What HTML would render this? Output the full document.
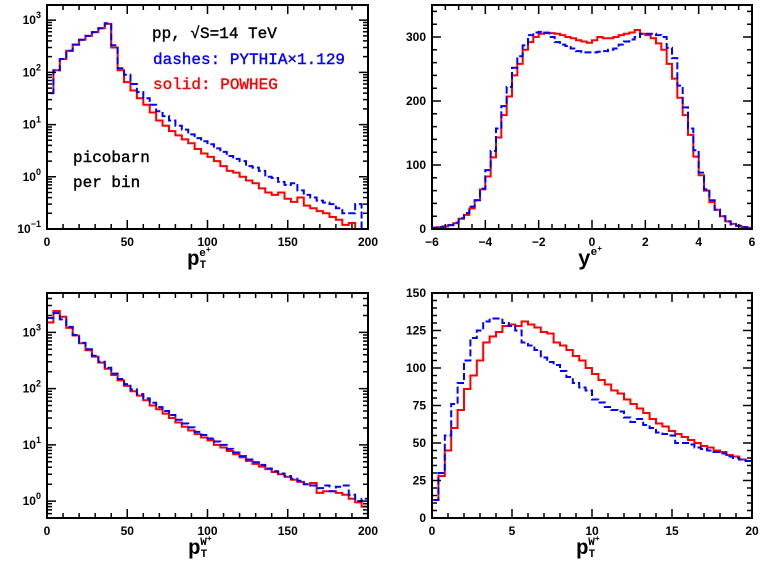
<!DOCTYPE html>
<html><head><meta charset="utf-8"><style>
body{margin:0;background:#fff;}
svg{display:block;font-family:"Liberation Sans",sans-serif;}
.tl{font-size:12px;font-weight:bold;fill:#000;}
.note{font-size:16px;font-family:"Liberation Mono",monospace;stroke-width:0.4;}
</style></head><body>
<svg id="chart" width="763" height="565" viewBox="0 0 763 565">
  <text x="152" y="38" class="note" fill="#000" stroke="#000">pp, √S=14 TeV</text>
  <text x="153" y="64" class="note" fill="#00f" stroke="#00f">dashes: PYTHIA×1.129</text>
  <text x="153" y="89" class="note" fill="#f00" stroke="#f00">solid: POWHEG</text>
  <text x="73" y="162" class="note" fill="#000" stroke="#000">picobarn</text>
  <text x="73" y="187" class="note" fill="#000" stroke="#000">per bin</text>
</svg>
<script>
// ---- Panel 1: pT of e+ (4 GeV bins, 0-200) ----
const p1Bin = 4;
const p1Powheg = [40,110,180,260,340,420,500,590,700,850,300,110,65,45,32,24,17,12,9.5,7.5,6.2,5.2,4.4,3.4,2.8,2.4,2.0,1.6,1.3,1.2,1.0,0.85,0.75,0.6,0.5,0.45,0.5,0.38,0.33,0.4,0.28,0.25,0.22,0.2,0.17,0.15,0.12,0.13,0.1,0.05];
const p1Pythia = [40,110,180,260,340,420,500,590,700,870,330,120,90,60,42,32,24,18,14.5,12,9.5,8,6.5,5.5,4.8,4.2,3.5,3,2.5,2.2,2.0,1.6,1.5,1.3,1.0,0.95,0.8,0.7,0.75,0.55,0.45,0.4,0.35,0.32,0.3,0.25,0.2,0.2,0.3,0.05];
const p1XTicks = [0,50,100,150,200];
const p1YTicks = [-1,0,1,2,3];
// ---- Panel 2: rapidity of e+ (0.2 bins, -6..6) ----
const p2Bin = 0.2;
const p2Powheg = [2,3,4,6,9,16,22,32,45,62,82,112,143,178,207,240,258,280,292,300,305,307,306,305,303,300,298,295,293,291,295,300,298,298,300,303,305,307,311,305,303,298,290,280,258,235,205,178,147,113,84,60,42,30,20,12,8,5,3,2];
const p2Pythia = [2,3,4,6,10,17,25,35,45,63,92,122,157,192,222,252,270,287,303,307,308,306,300,292,288,286,282,278,276,276,276,277,278,280,282,288,293,296,300,305,305,305,303,300,283,267,224,190,157,123,88,62,45,30,20,12,7,5,3,2];
const p2XTicks = [-6,-4,-2,0,2,4,6];
const p2YTicks = [0,100,200,300];
// ---- Panel 3: pT of W+ (4 GeV bins) ----
const p3Bin = 4;
const p3Powheg = [1500,2400,1900,1200,880,640,480,370,290,225,175,140,112,90,75,62,50,43,36,30,25,21,18,15.5,13.5,12,10,9,7.8,6.8,6,5.2,4.6,4.1,3.7,3.3,3.0,2.7,2.4,2.2,2.0,2.1,1.4,1.5,1.5,1.4,1.3,1.1,0.95,0.8];
const p3Pythia = [1800,2200,1700,1250,900,650,500,385,300,235,185,148,120,97,80,67,56,47,40,34,28,24,20.5,17,15,13,11.5,10,8.5,7.3,6.3,5.5,4.9,4.4,3.8,3.4,3.1,2.8,2.5,2.3,2.0,1.9,1.7,1.9,1.5,1.8,1.9,1.3,1.0,1.1];
const p3XTicks = [0,50,100,150,200];
const p3YTicks = [0,1,2,3];
// ---- Panel 4: pT of W+ low range (0.4 GeV bins, 0-20) ----
const p4Bin = 0.4;
const p4Powheg = [12,28,45,60,72,86,95,105,117,121,124,128,129,128,131,129,127,124,123,117,115,112,108,105,100,96,92,89,85,83,79,76,73,70,66,63,61,58,56,54,52,50,48,47,45,44,42,41,39,38];
const p4Pythia = [12,30,55,76,90,105,120,125,131,133,133,130,128,125,117,115,112,107,104,102,98,94,90,87,85,79,77,74,72,71,67,64,66,62,60,57,56,55,50,50,49,47,46,45,44,43,41,40,39,38];
const p4XTicks = [0,5,10,15,20];
const p4YTicks = [0,25,50,75,100,125,150];

const NS = "http://www.w3.org/2000/svg";
const svg = document.getElementById('chart');
function mk(tag, attrs, parent){const e=document.createElementNS(NS,tag);for(const k in attrs)e.setAttribute(k,attrs[k]);(parent||svg).appendChild(e);return e;}

function panel(cfg){
  const g = mk('g',{});
  
  
  const {x0,x1,y0,y1,xmin,xmax,ymin,ymax,log} = cfg;
  const X = v => x0 + (v-xmin)/(xmax-xmin)*(x1-x0);
  const Y = v => { const t = log ? (Math.log10(Math.max(v,1e-6))-ymin)/(ymax-ymin) : (v-ymin)/(ymax-ymin); return y1 - t*(y1-y0); };
  const cid = 'clip-'+cfg.name;
  const cp = mk('clipPath',{id:cid},g); mk('rect',{x:x0,y:y0,width:x1-x0,height:y1-y0},cp);
  const series = [[cfg.red,'#f00','none','solid-powheg-line'],[cfg.blue,'#00f','7,3','dashed-pythia-line']];
  for(const [vals,col,dash,nm] of series){
    let d = 'M'+X(cfg.start)+','+y1;
    vals.forEach((v,i)=>{const a=cfg.start+i*cfg.bin,b=a+cfg.bin;d+=' L'+X(a).toFixed(2)+','+Y(v).toFixed(2)+' L'+X(b).toFixed(2)+','+Y(v).toFixed(2);});
    d+=' L'+X(cfg.start+vals.length*cfg.bin)+','+y1;
    const p = mk('path',{d:d,fill:'none',stroke:col,'stroke-width':2,'stroke-dasharray':dash,'clip-path':'url(#'+cid+')'},g);
    
    
  }
  const fr = mk('rect',{x:x0,y:y0,width:x1-x0,height:y1-y0,fill:'none',stroke:'#000','stroke-width':2},g);
  
  
  let td='';
  for(let v=xmin; v<=xmax+1e-9; v+=cfg.xminor){const px=X(v);const major=cfg.xticks.some(t=>Math.abs(t-v)<1e-6);const L=major?9:5;td+=`M${px},${y1}v${-L}M${px},${y0}v${L}`;}
  if(log){
    for(let dcd=Math.floor(ymin); dcd<ymax; dcd++){for(let m=1;m<10;m++){const lv=dcd+Math.log10(m);if(lv<ymin||lv>ymax)continue;const py=y1-(lv-ymin)/(ymax-ymin)*(y1-y0);const L=m==1?9:5;td+=`M${x0},${py}h${L}M${x1},${py}h${-L}`;}}
  } else {
    for(let v=ymin; v<=ymax+1e-9; v+=cfg.yminor){const py=Y(v);const major=cfg.yticks.some(t=>Math.abs(t-v)<1e-6);const L=major?9:5;td+=`M${x0},${py}h${L}M${x1},${py}h${-L}`;}
  }
  mk('path',{d:td,stroke:'#000','stroke-width':1.5,fill:'none'},g);
  cfg.xticks.forEach(v=>{const t=mk('text',{x:X(v),y:y1+17,'text-anchor':'middle',class:'tl'},g);t.textContent=(v<0?'−'+(-v):v);
    
    });
  cfg.yticks.forEach(v=>{let py, t;
    if(log){py=y1-(v-ymin)/(ymax-ymin)*(y1-y0);t=mk('text',{x:x0-6,y:py+4,'text-anchor':'end',class:'tl'},g);t.innerHTML='10<tspan dy="-6" font-size="9">'+(v<0?'−'+(-v):v)+'</tspan>';}
    else{py=Y(v);t=mk('text',{x:x0-6,y:py+4,'text-anchor':'end',class:'tl'},g);t.textContent=v;}
    
    });
  const at = mk('text',{x:cfg.tx,y:y1+36,'font-family':'Liberation Mono, monospace','font-weight':'bold','font-size':'21'},g);
  at.innerHTML = cfg.title;
  
  
}

const sup = (a)=>'<tspan font-size="11" dy="-10">'+a+'</tspan><tspan font-size="8" dy="-4">+</tspan>';
const pTsup = (a)=>'p<tspan font-size="11" dy="3">T</tspan><tspan font-size="11" dy="-12" dx="-7">'+a+'</tspan><tspan font-size="8" dy="-4">+</tspan>';
panel({name:'panel-pt-electron',x0:47,x1:368,y0:5,y1:229,xmin:0,xmax:200,ymin:-1,ymax:3.29,log:true,start:0,bin:p1Bin,red:p1Powheg,blue:p1Pythia,xticks:p1XTicks,yticks:p1YTicks,xminor:10,tx:187,title:pTsup('e')});
panel({name:'panel-y-electron',x0:432,x1:752,y0:5,y1:229,xmin:-6,xmax:6,ymin:0,ymax:350,log:false,start:-6,bin:p2Bin,red:p2Powheg,blue:p2Pythia,xticks:p2XTicks,yticks:p2YTicks,xminor:0.5,yminor:20,tx:578,title:'y'+sup('e')});
panel({name:'panel-pt-w-log',x0:47,x1:368,y0:293,y1:518,xmin:0,xmax:200,ymin:-0.3,ymax:3.7,log:true,start:0,bin:p3Bin,red:p3Powheg,blue:p3Pythia,xticks:p3XTicks,yticks:p3YTicks,xminor:10,tx:188,title:pTsup('W')});
panel({name:'panel-pt-w-linear',x0:432,x1:752,y0:293,y1:518,xmin:0,xmax:20,ymin:0,ymax:150,log:false,start:0,bin:p4Bin,red:p4Powheg,blue:p4Pythia,xticks:p4XTicks,yticks:p4YTicks,xminor:1,yminor:5,tx:576,title:pTsup('W')});
</script>
</body></html>
